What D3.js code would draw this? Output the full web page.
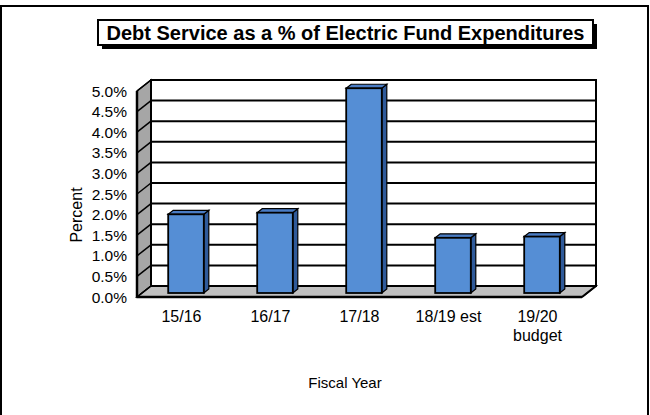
<!DOCTYPE html>
<html><head><meta charset="utf-8">
<script src="https://cdn.jsdelivr.net/npm/d3@7"></script>
<style>body{margin:0;background:#fff}svg{display:block}text{font-family:"Liberation Sans",Arial,sans-serif}</style>
</head><body>
<script>
const categories = ["15/16", "16/17", "17/18", "18/19 est", "19/20 budget"];
const values = [1.91, 1.95, 4.97, 1.34, 1.37];
const yTicks = [0, 0.5, 1, 1.5, 2, 2.5, 3, 3.5, 4, 4.5, 5];
const title = "Debt Service as a % of Electric Fund Expenditures";
const xTitle = "Fiscal Year", yTitle = "Percent";

const W = 650, H = 415;
const svg = d3.select("body").append("svg").attr("width", W).attr("height", H);

// outer frame
svg.append("rect").attr("x", 1).attr("y", 6).attr("width", 647).attr("height", 412)
  .attr("fill", "#fff").attr("stroke", "#000").attr("stroke-width", 2);

// title box with shadow
svg.append("rect").attr("x", 102).attr("y", 24).attr("width", 495).attr("height", 25).attr("fill", "#000");
svg.append("rect").attr("x", 98).attr("y", 20).attr("width", 495).attr("height", 25)
  .attr("fill", "#fff").attr("stroke", "#000").attr("stroke-width", 2);
svg.append("text").attr("x", 345.5).attr("y", 39.5).attr("text-anchor", "middle")
  .attr("font-size", 20).attr("font-weight", "bold").text(title);

// 3D geometry
const left = 137, right = 582, DX = 14, DY = -11;
const y = d3.scaleLinear().domain([0, 5]).range([297, 91]);
const x = d3.scaleBand().domain(categories).range([left, right]).paddingInner(0.6).paddingOuter(0.3);

const g = svg.append("g");
// left wall
g.append("path").attr("d", `M${left},${y(0)}L${left+DX},${y(0)+DY}L${left+DX},${y(5)+DY}L${left},${y(5)}Z`)
  .attr("fill", "#a6a6a6").attr("stroke", "#000").attr("stroke-width", 1.5);
// floor
g.append("path").attr("d", `M${left},${y(0)}L${left+DX},${y(0)+DY}L${right+DX},${y(0)+DY}L${right},${y(0)}Z`)
  .attr("fill", "#c0c0c0").attr("stroke", "#000").attr("stroke-width", 1.5);
// back wall
g.append("rect").attr("x", left+DX).attr("y", y(5)+DY).attr("width", right-left).attr("height", y(0)-y(5))
  .attr("fill", "#fff").attr("stroke", "#000").attr("stroke-width", 2);
// gridlines
yTicks.forEach(t => {
  if (t > 0) g.append("line").attr("x1", left+DX).attr("x2", right+DX).attr("y1", y(t)+DY).attr("y2", y(t)+DY)
    .attr("stroke", "#000").attr("stroke-width", 2);
  g.append("line").attr("x1", left).attr("x2", left+DX).attr("y1", y(t)).attr("y2", y(t)+DY)
    .attr("stroke", "#000").attr("stroke-width", 1.5);
});
// front edges
g.append("line").attr("x1", left).attr("x2", right).attr("y1", y(0)).attr("y2", y(0)).attr("stroke", "#000").attr("stroke-width", 2.5);
g.append("line").attr("x1", left).attr("x2", left).attr("y1", y(0)).attr("y2", y(5)).attr("stroke", "#000").attr("stroke-width", 2.5);
g.append("line").attr("x1", right).attr("x2", right+DX).attr("y1", y(0)).attr("y2", y(0)+DY).attr("stroke", "#000").attr("stroke-width", 2);

// bars
const ox = 4.5, oy = -4, bdx = 5, bdy = -4;
categories.forEach((c, i) => {
  const x0 = x(c) + ox, x1 = x0 + x.bandwidth();
  const yb = y(0) + oy, yt = y(values[i]) + oy;
  g.append("path").attr("d", `M${x1},${yb}L${x1+bdx},${yb+bdy}L${x1+bdx},${yt+bdy}L${x1},${yt}Z`)
    .attr("fill", "#2f5a9a").attr("stroke", "#000").attr("stroke-width", 1.2);
  g.append("path").attr("d", `M${x0},${yt}L${x0+bdx},${yt+bdy}L${x1+bdx},${yt+bdy}L${x1},${yt}Z`)
    .attr("fill", "#4a7cc4").attr("stroke", "#000").attr("stroke-width", 1.2);
  g.append("rect").attr("x", x0).attr("y", yt).attr("width", x.bandwidth()).attr("height", yb - yt)
    .attr("fill", "#558ed5").attr("stroke", "#000").attr("stroke-width", 1.8);
});

// y tick labels
yTicks.forEach(t => {
  svg.append("text").attr("x", 127).attr("y", y(t) + 5.5).attr("text-anchor", "end")
    .attr("font-size", 15.5).text(t.toFixed(1) + "%");
});
// x labels
categories.forEach(c => {
  const parts = c === "19/20 budget" ? ["19/20", "budget"] : [c];
  parts.forEach((p, j) => svg.append("text").attr("x", x(c) + x.bandwidth()/2).attr("y", 321.5 + j*19)
    .attr("text-anchor", "middle").attr("font-size", 16).text(p));
});
svg.append("text").attr("x", 345).attr("y", 388).attr("text-anchor", "middle").attr("font-size", 15).text(xTitle);
svg.append("text").attr("transform", "translate(82,215) rotate(-90)").attr("text-anchor", "middle")
  .attr("font-size", 16).text(yTitle);
</script>
</body></html>
